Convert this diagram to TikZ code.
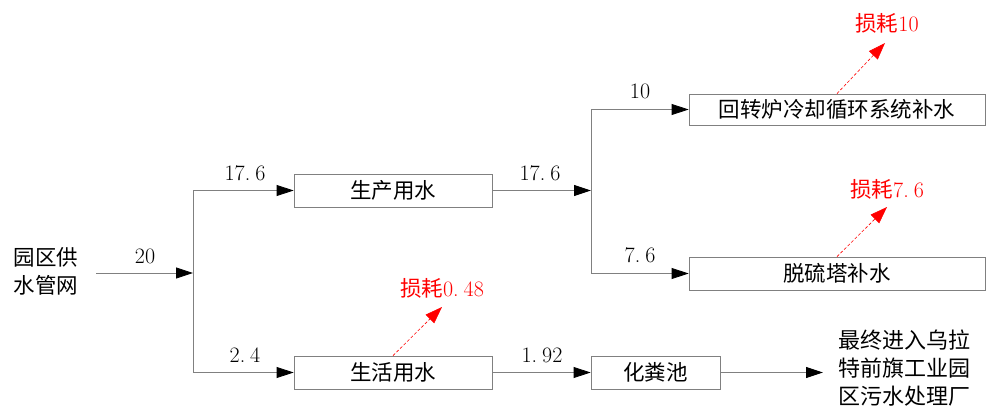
\documentclass[tikz,border=0pt]{standalone}
\usepackage{fontspec}
\newfontfamily\cjk{Noto Sans CJK SC}
\usetikzlibrary{arrows.meta}
\newcommand\zh{\cjk\fontsize{21.5}{28}\selectfont}
\newcommand\nm[1]{{\fontsize{22}{24}\rmfamily #1}}
\newcommand\dt{.\hspace{5pt}}
\definecolor{lg}{HTML}{808080}
\begin{document}
\begin{tikzpicture}[x=1pt,y=-1pt,
  box/.style={draw=lg, line width=0.8pt, minimum height=33pt, inner sep=0pt, font=\zh},
  conn/.style={draw=lg, line width=0.8pt, -{Triangle[length=17pt,width=11pt,color=black]}},
  loss/.style={draw=red, line width=0.6pt, dash pattern=on 3pt off 2pt, -{Triangle[length=17pt,width=12pt,color=red]}},
  lbl/.style={inner sep=0pt, font=\zh},
  rlbl/.style={inner sep=0pt, font=\zh, text=red}]
\path[use as bounding box] (0,0) rectangle (988,412);
% nodes
\node[lbl, align=center] (src) at (46,271) {园区供\\水管网};
\coordinate (srcout) at (96,273);
\coordinate (j1) at (193,273);
\node[box, minimum width=198pt] (p1) at (393,190.5) {生产用水};
\node[box, minimum width=198pt] (p2) at (393,372.5) {生活用水};
\coordinate (j2) at (591,190.5);
\node[box, minimum width=296pt, minimum height=31pt] (r1) at (837,109.5) {回转炉冷却循环系统补水};
\node[box, minimum width=296pt] (r2) at (837,273.5) {脱硫塔补水};
\node[box, minimum width=129pt] (s) at (655.5,372.5) {化粪池};
\node[lbl, align=left, font=\cjk\fontsize{22}{28}\selectfont] (dest) at (904,368) {最终进入乌拉\\特前旗工业园\\区污水处理厂};
\coordinate (destin) at (823,372.5);
% number labels
\node[lbl] (n20) at (145,256) {\nm{20}};
\node[lbl] (n176a) at (245,173) {\nm{17\dt6}};
\node[lbl] (n24) at (245,355) {\nm{2\dt4}};
\node[lbl] (n176b) at (540,173) {\nm{17\dt6}};
\node[lbl] (n10) at (640,91) {\nm{10}};
\node[lbl] (n76) at (640,255) {\nm{7\dt6}};
\node[lbl] (n192) at (542,355) {\nm{1\dt92}};
% loss labels
\node[rlbl] (L1) at (887,23) {损耗\nm{10}};
\node[rlbl] (L2) at (887,189) {损耗\nm{7\dt6}};
\node[rlbl] (L3) at (442,288) {损耗\nm{0\dt48}};
\coordinate (t1) at (885,43);
\coordinate (t2) at (887,207);
\coordinate (t3) at (442,307);
% connectors
\draw[conn] (srcout) -- (j1);
\draw[conn] (j1) |- (p1.west);
\draw[conn] (j1) |- (p2.west);
\draw[conn] (p1.east) -- (j2);
\draw[conn] (j2) |- (r1.west);
\draw[conn] (j2) |- (r2.west);
\draw[conn] (p2.east) -- (s.west);
\draw[conn] (s.east) -- (destin);
\draw[loss] (r1.north) -- (t1);
\draw[loss] (r2.north) -- (t2);
\draw[loss] (p2.north) -- (t3);
\end{tikzpicture}
\end{document}
